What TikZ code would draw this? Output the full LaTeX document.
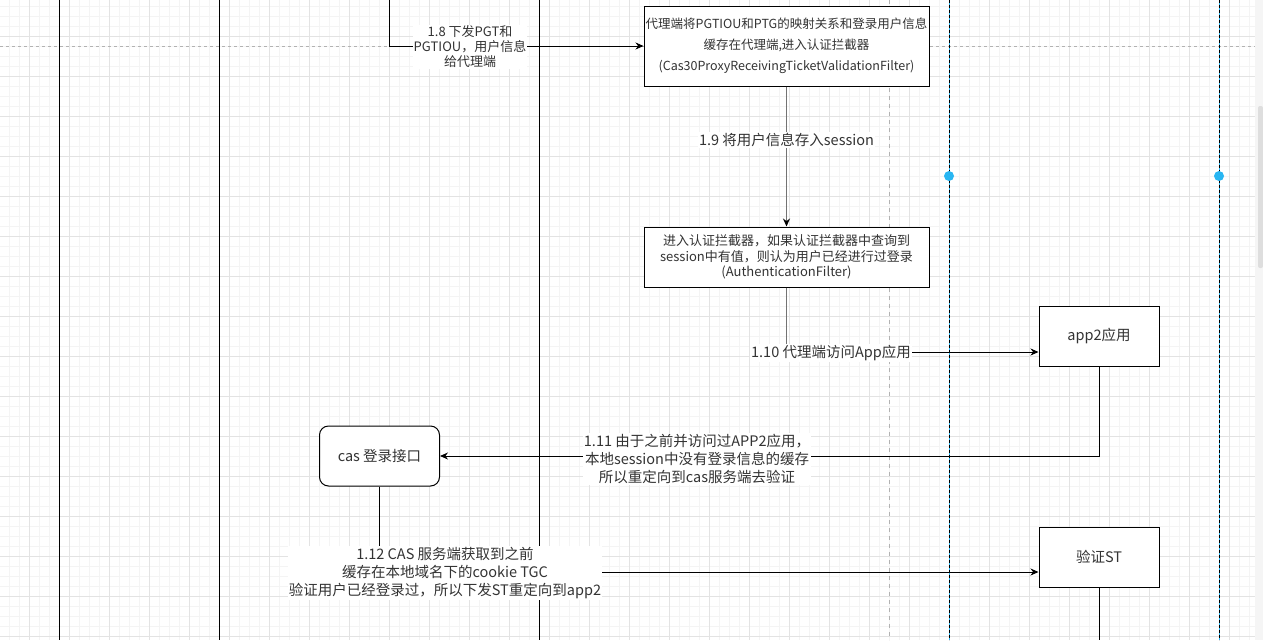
\documentclass[tikz,border=0pt]{standalone}
\usepackage{fontspec}
\setmainfont{Noto Sans CJK SC}
\usetikzlibrary{arrows.meta, positioning}

\definecolor{gridmajor}{HTML}{E3E3E3}
\definecolor{gridminor}{HTML}{F4F4F4}
\definecolor{selblue}{HTML}{29B6F2}
\definecolor{txt}{HTML}{333333}

\begin{document}
\begin{tikzpicture}[
    x=1pt, y=-1pt,
    every node/.style={text=txt, align=center, inner sep=1pt},
    box/.style={
        draw,
        fill=white,
        line width=1pt,
        minimum width=285pt,
        minimum height=80pt
    },
    smallbox/.style={
        draw,
        fill=white,
        line width=1pt,
        minimum width=120pt,
        minimum height=60pt,
        font=\fontsize{14.5}{18}\selectfont
    },
    roundbox/.style={
        smallbox,
        rounded corners=9pt
    },
    edgelabel/.style={
        fill=white,
        font=\fontsize{14.5}{18}\selectfont
    },
    arrow/.style={
        -{Stealth[length=8pt, width=7pt, color=black]},
        line width=1pt
    },
    lifeline/.style={line width=1pt},
    hoverline/.style={line width=1.4pt, draw=black!55}
]

\useasboundingbox (0,0) rectangle (1263,640);

% canvas grid
\fill[white] (0,0) rectangle (1255,640);
\foreach \x in {9,19,...,1249} \draw[gridminor] (\x,0) -- (\x,640);
\foreach \y in {6,16,...,636} \draw[gridminor] (0,\y) -- (1255,\y);
\foreach \x in {29,69,...,1229} \draw[gridmajor] (\x,0) -- (\x,640);
\foreach \y in {36,76,...,636} \draw[gridmajor] (0,\y) -- (1255,\y);
\fill[black!4] (1255,0) rectangle (1263,640);
\fill[black!13, rounded corners=2pt] (1258,106) rectangle (1263,268);

% page break and lifelines
\draw[black!30, dash pattern=on 3pt off 3pt] (0,46) -- (1255,46);
\draw[black!30, dash pattern=on 4pt off 4pt] (889,0) -- (889,640);
\foreach \x in {59,219,539} \draw[lifeline] (\x,0) -- (\x,640);
\foreach \x in {949,1219} {
    \draw[selblue, line width=1pt] (\x,0) -- (\x,640);
    \draw[line width=1pt, dash pattern=on 3pt off 2pt] (\x,0) -- (\x,640);
    \fill[selblue] (\x,176) circle (5pt);
}

\node[box, font=\fontsize{12.5}{21}\selectfont] (proxy) at (786.5,46)
{代理端将PGTIOU和PTG的映射关系和登录用户信息\\缓存在代理端,进入认证拦截器\\(Cas30ProxyReceivingTicketValidationFilter)};

\node[box, minimum height=60pt, font=\fontsize{13}{15.5}\selectfont, below=140pt of proxy] (authfilter)
{进入认证拦截器，如果认证拦截器中查询到\\session中有值，则认为用户已经进行过登录\\(AuthenticationFilter)};

\node[smallbox] (app2) at (1099,336) {app2应用};

\node[roundbox] (caslogin) at (379.5,456) {cas 登录接口};

\node[smallbox, below=160pt of app2] (checkst) {验证ST};

\coordinate (top18) at (389,0);
\coordinate (app2in) at ([yshift=-16pt]app2.west);
\coordinate (k110) at (authfilter.south |- app2in);
\coordinate (stin) at ([yshift=-15pt]checkst.west);
\coordinate (stend) at (1099,640);

\draw[arrow] (top18) |- (proxy.west);
\draw[arrow, hoverline] (proxy) -- (authfilter);
\draw[hoverline] (authfilter.south) -- (k110);
\draw[arrow] (k110) -- (app2in);
\draw[arrow] (app2.south) |- (caslogin.east);
\draw[arrow] (caslogin.south) |- (stin);
\draw[lifeline] (checkst.south) -- (stend);

\node[edgelabel, font=\fontsize{13}{15}\selectfont] (l18) at (470,47)
{1.8 下发PGT和\\PGTIOU，用户信息\\给代理端};
\node[edgelabel] (l19) at (786.5,140) {1.9 将用户信息存入session};
\node[edgelabel] (l110) at (831,353) {1.10 代理端访问App应用};
\node[edgelabel] (l111) at (697,459)
{1.11 由于之前并访问过APP2应用，\\本地session中没有登录信息的缓存\\所以重定向到cas服务端去验证};
\node[edgelabel] (l112) at (445,573)
{1.12 CAS 服务端获取到之前\\缓存在本地域名下的cookie TGC\\验证用户已经登录过，所以下发ST重定向到app2};

\end{tikzpicture}
\end{document}
